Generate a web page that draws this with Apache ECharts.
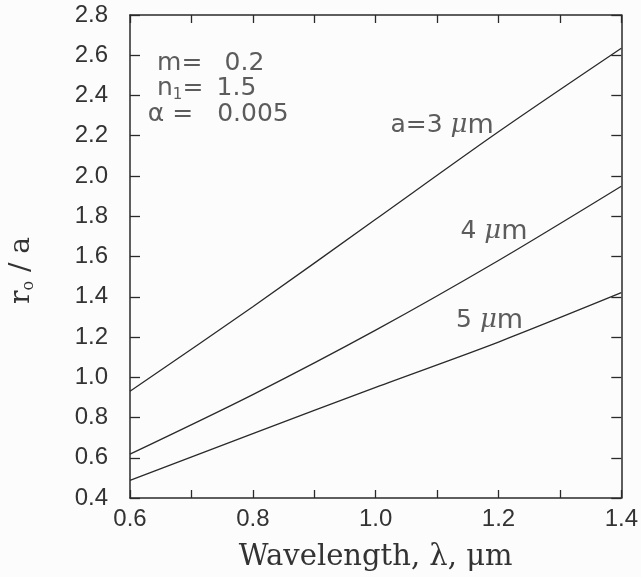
<!DOCTYPE html>
<html>
<head>
<meta charset="utf-8">
<script src="https://cdn.jsdelivr.net/npm/echarts@6/dist/echarts.min.js"></script>
<style>
html, body { margin: 0; padding: 0; background: #fcfcfc; }
#chart { width: 641px; height: 577px; }
</style>
</head>
<body>
<div id="chart"></div>
<script>
var chart = echarts.init(document.getElementById('chart'));

// wavelength, um
var wavelength = [0.6, 0.8, 1.0, 1.2, 1.4];
// r_o / a for each particle radius
var radius3 = [0.93, 1.35, 1.785, 2.22, 2.635];
var radius4 = [0.618, 0.914, 1.234, 1.58, 1.949];
var radius5 = [0.488, 0.72, 0.95, 1.175, 1.42];

var inkColor = '#2a2a2a';
var sansFont = 'Liberation Sans';

function pairs(ys) {
	return wavelength.map(function(x, i) {
		return [x, ys[i]];
	});
}

function curve(name, ys) {
	return {
		name : name,
		type : 'line',
		data : pairs(ys),
		smooth : 0.3,
		symbol : 'none',
		lineStyle : { color : inkColor, width : 1.3 },
		xAxisIndex : 0,
		yAxisIndex : 0
	};
}

// text annotations, placed in data coordinates
var notes = [
	{ value : [0.644, 2.561], text : '{t|m=}' },
	{ value : [0.754, 2.561], text : '{t|0.2}' },
	{ value : [0.644, 2.435], text : '{t|n}{s|1}{t|=}' },
	{ value : [0.741, 2.435], text : '{t|1.5}' },
	{ value : [0.629, 2.308], text : '{t|\u03b1 =}' },
	{ value : [0.742, 2.308], text : '{t|0.005}' },
	{ value : [1.024, 2.25], text : '{t|a=3 }{mu|\u03bc}{m|m}' },
	{ value : [1.138, 1.724], text : '{t|4 }{mu|\u03bc}{m|m}' },
	{ value : [1.131, 1.281], text : '{t|5 }{mu|\u03bc}{m|m}' }
];

var tickStyle = { color : inkColor, width : 1.3 };
var lineStyle = { color : inkColor, width : 1.5 };

var option = {
	backgroundColor : '#fcfcfc',
	animation : false,
	grid : { left : 130, right : 17, top : 15, bottom : 69 },
	xAxis : [ {
		type : 'value',
		min : 0.6,
		max : 1.4,
		interval : 0.1,
		axisLine : { show : true, lineStyle : lineStyle },
		axisTick : { show : true, inside : true, length : 8, lineStyle : tickStyle },
		splitLine : { show : false },
		axisLabel : {
			margin : 9,
			color : '#333',
			fontFamily : sansFont,
			fontSize : 24,
			formatter : function(v) {
				return Math.round(v * 10) % 2 === 0 ? v.toFixed(1) : '';
			}
		},
		name : 'Wavelength, \u03bb, \u03bcm',
		nameLocation : 'middle',
		nameGap : 45,
		nameTextStyle : { color : '#333', fontFamily : 'DejaVu Serif', fontSize : 29 }
	}, {
		type : 'value',
		position : 'top',
		min : 0.6,
		max : 1.4,
		interval : 0.1,
		axisLine : { show : true, lineStyle : lineStyle },
		axisTick : { show : true, inside : true, length : 8, lineStyle : tickStyle },
		splitLine : { show : false },
		axisLabel : { show : false }
	} ],
	yAxis : [ {
		type : 'value',
		min : 0.4,
		max : 2.8,
		interval : 0.2,
		axisLine : { show : true, lineStyle : lineStyle },
		axisTick : { show : true, inside : true, length : 10, lineStyle : tickStyle },
		splitLine : { show : false },
		axisLabel : {
			margin : 22,
			color : '#333',
			fontFamily : sansFont,
			fontSize : 24,
			formatter : function(v) { return v.toFixed(1); }
		},
		name : '{r|r}{s|o}{r| / a}',
		nameLocation : 'middle',
		nameRotate : 90,
		nameGap : 93,
		nameTextStyle : {
			padding : [0, 28, 0, 0],
			rich : {
				r : { color : '#333', fontFamily : 'DejaVu Serif', fontSize : 28 },
				s : { color : '#333', fontFamily : 'DejaVu Serif', fontSize : 16, verticalAlign : 'bottom', padding : [14, 0, 0, 0] }
			}
		}
	}, {
		type : 'value',
		position : 'right',
		min : 0.4,
		max : 2.8,
		interval : 0.2,
		axisLine : { show : true, lineStyle : lineStyle },
		axisTick : { show : true, inside : true, length : 10, lineStyle : tickStyle },
		splitLine : { show : false },
		axisLabel : { show : false }
	} ],
	series : [
		curve('a=3', radius3),
		curve('a=4', radius4),
		curve('a=5', radius5),
		{
			type : 'scatter',
			symbolSize : 0,
			silent : true,
			data : notes.map(function(n) {
				return { value : n.value, label : { formatter : n.text } };
			}),
			label : {
				show : true,
				position : 'inside',
				align : 'left',
				verticalAlign : 'middle',
				rich : {
					t : { color : '#333', fontFamily : 'DejaVu Sans', fontSize : 25 },
					s : { color : '#333', fontFamily : 'DejaVu Sans', fontSize : 15, padding : [14, 0, 0, 0] },
					mu : { color : '#333', fontFamily : 'DejaVu Serif', fontStyle : 'italic', fontSize : 26 },
					m : { color : '#333', fontFamily : 'DejaVu Sans', fontSize : 27 }
				}
			}
		}
	]
};

chart.setOption(option);
</script>
</body>
</html>
